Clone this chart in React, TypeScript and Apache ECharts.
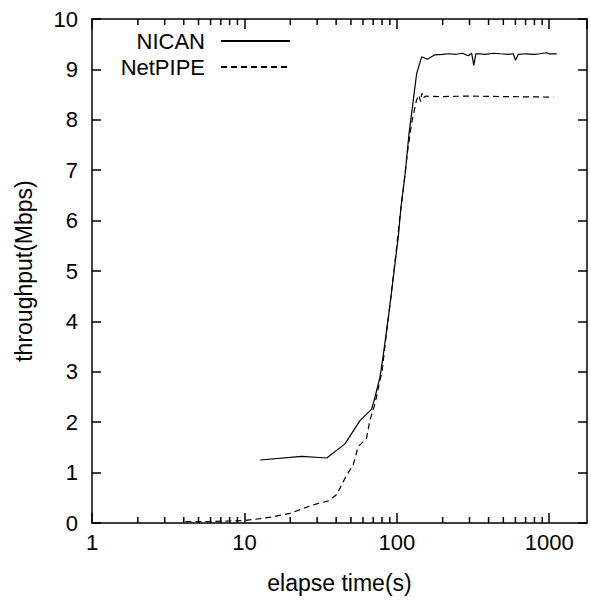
import React, { useEffect, useRef } from "react";
import * as echarts from "echarts";

const nicanX = [12.7, 23.8, 34.7, 45.7, 57.3, 68.4, 72, 77.6, 81.5, 89.3, 96, 102.3, 106.6, 113.2, 120.3, 128.3, 135, 145.6, 158.6, 178, 200, 220, 245, 270, 294, 310, 320, 330, 345, 380, 430, 480, 540, 582, 601, 627, 700, 800, 871, 962, 1000, 1120];
const nicanY = [1.25, 1.32, 1.29, 1.57, 2.03, 2.26, 2.5, 2.9, 3.33, 4.23, 5.0, 5.68, 6.28, 6.9, 7.73, 8.39, 8.92, 9.25, 9.2, 9.29, 9.3, 9.31, 9.3, 9.32, 9.27, 9.32, 9.08, 9.31, 9.31, 9.3, 9.32, 9.31, 9.3, 9.31, 9.18, 9.3, 9.31, 9.3, 9.31, 9.33, 9.31, 9.31];

const netX = [4.1, 6, 8, 10, 12.7, 15.5, 19.9, 24.9, 29.8, 35.6, 40.2, 46.9, 51.7, 55.7, 63.3, 66.6, 72, 77.6, 80, 85, 90, 100, 105, 110, 118, 125, 129.7, 134.7, 139, 143.5, 146, 148, 155, 191, 294, 527, 1064];
const netY = [0.03, 0.03, 0.04, 0.05, 0.085, 0.125, 0.19, 0.3, 0.38, 0.44, 0.56, 0.95, 1.15, 1.51, 1.68, 2.04, 2.37, 2.84, 3.0, 3.7, 4.3, 5.5, 6.1, 6.6, 7.4, 7.93, 8.16, 8.39, 8.49, 8.36, 8.53, 8.43, 8.47, 8.46, 8.47, 8.46, 8.45];

const minorTicks = [2, 3, 4, 5, 6, 7, 8, 9, 20, 30, 40, 50, 60, 70, 80, 90, 200, 300, 400, 500, 600, 700, 800, 900];

const seriesNames = ["NICAN", "NetPIPE"];
const X_MIN = 1;
const X_MAX = 1770;
const Y_MIN = 0;
const Y_MAX = 10;

const FONT = "'Liberation Sans', Arial, sans-serif";

export default function App() {
  const ref = useRef<HTMLDivElement>(null);
  useEffect(() => {
    if (!ref.current) return;
    const chart = echarts.init(ref.current, undefined, { renderer: "svg" });
    const axisLine = { show: true, onZero: false, lineStyle: { color: "#000", width: 1.5 } };
    const tickStyle = { color: "#000", width: 1.5 };
    const xBase = {
      type: "log" as const,
      logBase: 10,
      min: X_MIN,
      max: X_MAX,
      splitLine: { show: false },
      axisLine,
      axisTick: { show: true, inside: true, length: 10, lineStyle: tickStyle },
    };
    const yBase = {
      type: "value" as const,
      min: Y_MIN,
      max: Y_MAX,
      interval: 1,
      splitLine: { show: false },
      axisLine,
      axisTick: { show: true, inside: true, length: 9, lineStyle: tickStyle },
    };
    chart.setOption({
      animation: false,
      textStyle: { fontFamily: FONT },
      grid: { left: 92, right: 4, top: 19, bottom: 77, containLabel: false },
      legend: {
        data: seriesNames,
        orient: "vertical",
        align: "right",
        right: 300,
        top: 30,
        padding: 0,
        itemWidth: 69,
        itemHeight: 14,
        itemGap: 4,
        itemStyle: { opacity: 0, color: "transparent", borderWidth: 0 },
        textStyle: { fontSize: 22, color: "#000", fontFamily: FONT, padding: [0, 11, 0, 0] },
        selectedMode: false,
      },
      xAxis: [
        {
          ...xBase,
          position: "bottom",
          name: "elapse time(s)",
          nameLocation: "middle",
          nameGap: 48,
          nameTextStyle: { fontSize: 23, color: "#000", fontFamily: FONT },
          axisLabel: {
            show: true,
            fontSize: 22,
            color: "#000",
            margin: 8,
            fontFamily: FONT,
            showMaxLabel: false,
            formatter: (v: number) => String(Math.round(v)),
          },
        },
        { ...xBase, position: "top", axisLabel: { show: false } },
      ],
      yAxis: [
        {
          ...yBase,
          position: "left",
          name: "throughput(Mbps)",
          nameLocation: "middle",
          nameGap: 57,
          nameTextStyle: { fontSize: 23, color: "#000", fontFamily: FONT },
          axisLabel: { show: true, fontSize: 22, color: "#000", margin: 14, fontFamily: FONT },
        },
        { ...yBase, position: "right", axisLabel: { show: false } },
      ],
      series: [
        {
          name: seriesNames[0],
          type: "line",
          data: nicanX.map((x, i) => [x, nicanY[i]]),
          symbol: "none",
          lineStyle: { color: "#000", width: 1.2, type: "solid" },
          itemStyle: { color: "#000" },
        },
        {
          name: seriesNames[1],
          type: "line",
          data: netX.map((x, i) => [x, netY[i]]),
          symbol: "none",
          lineStyle: { color: "#000", width: 1.2, type: [6, 4] },
          itemStyle: { color: "#000" },
        },
        {
          name: "minorTicks",
          type: "custom",
          silent: true,
          clip: false,
          data: minorTicks.map((v) => [v, Y_MIN]),
          encode: { x: 0, y: 1 },
          renderItem: (_params: any, api: any) => {
            const v = api.value(0);
            const b = api.coord([v, Y_MIN]);
            const t = api.coord([v, Y_MAX]);
            const style = { stroke: "#000", lineWidth: 1.5 };
            return {
              type: "group",
              children: [
                { type: "line", shape: { x1: b[0], y1: b[1], x2: b[0], y2: b[1] - 6 }, style },
                { type: "line", shape: { x1: t[0], y1: t[1], x2: t[0], y2: t[1] + 6 }, style },
              ],
            };
          },
        },
      ],
    });
    return () => chart.dispose();
  }, []);
  return <div ref={ref} style={{ width: 591, height: 600, position: "absolute", left: 0, top: 0 }} />;
}
